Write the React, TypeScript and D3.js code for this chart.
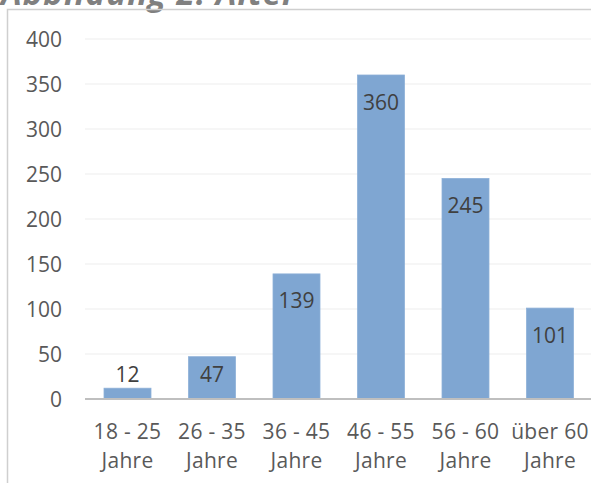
import React from "react";
import * as d3 from "d3";

// Altersgruppen und Anzahl der Befragten
const categories: string[][] = [
  ["18 - 25", "Jahre"],
  ["26 - 35", "Jahre"],
  ["36 - 45", "Jahre"],
  ["46 - 55", "Jahre"],
  ["56 - 60", "Jahre"],
  ["über 60", "Jahre"],
];
const counts: number[] = [12, 47, 139, 360, 245, 101];
const yTicks: number[] = [0, 50, 100, 150, 200, 250, 300, 350, 400];
const title = "Abbildung 2: Alter";

const W = 591;
const H = 483;
const FONT = "'Open Sans', 'DejaVu Sans', sans-serif";

export default function App() {
  const x = d3
    .scaleBand<number>()
    .domain(counts.map((_, i) => i))
    .range([85.25, 592.25])
    .paddingInner(0.444)
    .paddingOuter(0.222);
  const y = d3.scaleLinear().domain([0, 400]).range([399, 39]);

  return (
    <svg
      width={W}
      height={H}
      style={{ position: "absolute", left: 0, top: 0, background: "#fff" }}
      fontFamily={FONT}
    >
      <rect x={0} y={0} width={W} height={H} fill="#fff" />
      {/* Titel */}
      <text
        x={1}
        y={4.5}
        fontSize={33}
        letterSpacing={1}
        fontWeight="bold"
        fontStyle="italic"
        fill="#808080"
      >
        {title}
      </text>
      {/* Diagrammrahmen */}
      <path d={`M7.5,${H + 2} V9.5 H${W + 2}`} fill="none" stroke="#cfcfcf" strokeWidth={1.5} />

      {/* Gitterlinien */}
      {yTicks.slice(1).map((t) => (
        <line
          key={t}
          x1={85}
          x2={W}
          y1={y(t)}
          y2={y(t)}
          stroke="#eeeeee"
          strokeWidth={1.2}
        />
      ))}
      {/* Y-Achsenbeschriftung */}
      {yTicks.map((t) => (
        <text
          key={t}
          x={62}
          y={y(t) + 7.5}
          textAnchor="end"
          fontSize={21}
          fill="#595959"
        >
          {t}
        </text>
      ))}

      {/* Balken */}
      {counts.map((v, i) => (
        <rect
          key={i}
          x={x(i)}
          y={y(v)}
          width={x.bandwidth()}
          height={y(0) - y(v)}
          fill="#7fa6d2"
          stroke="#8db0d8"
          strokeWidth={0.8}
        />
      ))}

      {/* Grundlinie */}
      <line x1={85} x2={W} y1={399} y2={399} stroke="#bfbfbf" strokeWidth={2} />

      {/* Datenbeschriftungen */}
      {counts.map((v, i) => {
        const top = y(v);
        const h = y(0) - top;
        const cy = h < 30 ? top - 14 : top + Math.min(27, h * 0.43);
        return (
          <text
            key={i}
            x={(x(i) as number) + x.bandwidth() / 2}
            y={cy + 7.5}
            textAnchor="middle"
            fontSize={21}
            fill="#404040"
          >
            {v}
          </text>
        );
      })}

      {/* Kategorien */}
      {categories.map((lines, i) => (
        <text
          key={i}
          x={(x(i) as number) + x.bandwidth() / 2}
          textAnchor="middle"
          fontSize={21}
          letterSpacing={0.3}
          fill="#595959"
        >
          {lines.map((l, j) => (
            <tspan key={j} x={(x(i) as number) + x.bandwidth() / 2} y={438.5 + j * 29.5}>
              {l}
            </tspan>
          ))}
        </text>
      ))}
    </svg>
  );
}
